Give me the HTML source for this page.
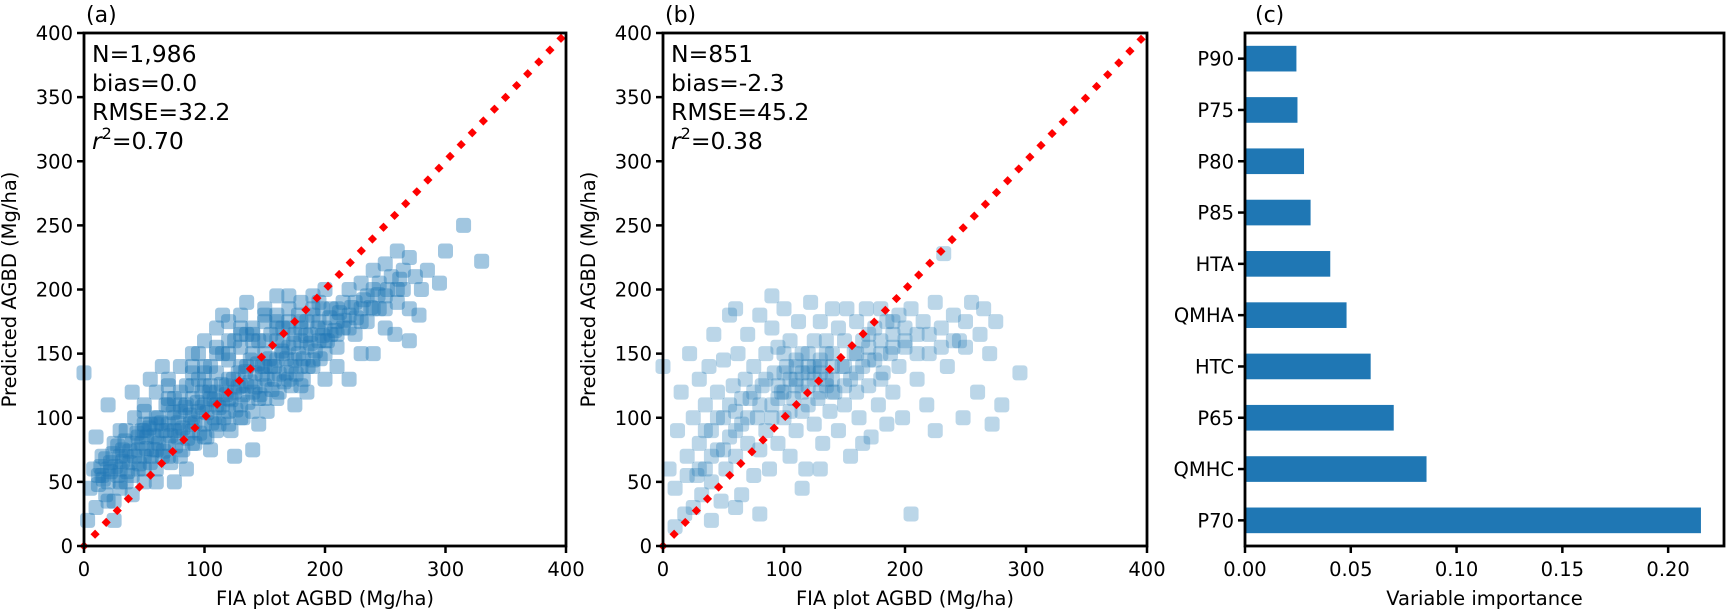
<!DOCTYPE html>
<html><head><meta charset="utf-8">
<style>
html,body{margin:0;padding:0;background:#fff;}
svg{display:block;font-family:"DejaVu Sans","Liberation Sans",sans-serif;}
</style></head>
<body>
<svg id="fig" width="1727" height="610" viewBox="0 0 1727 610" xmlns="http://www.w3.org/2000/svg"></svg>
<script>
// ---- Panel (a) data ----
const statsA = ["N=1,986","bias=0.0","RMSE=32.2","0.70"];
const pointsA = [[5,45],[8,60],[10,30],[12,55],[15,70],[18,40],[20,50],[22,65],[25,35],[25,80],[28,55],[30,60],[30,45],[32,75],[35,50],[35,90],[38,65],[40,55],[40,80],[42,100],[45,60],[45,75],[48,90],[50,50],[50,70],[50,110],[52,85],[55,65],[55,95],[58,75],[60,60],[60,85],[60,120],[62,100],[65,70],[65,90],[68,110],[70,80],[70,95],[70,130],[72,65],[75,100],[75,115],[78,85],[80,90],[80,105],[80,140],[82,75],[85,110],[85,125],[88,95],[90,100],[90,115],[90,150],[92,80],[95,105],[95,130],[98,120],[100,95],[100,110],[100,125],[100,160],[102,85],[105,115],[105,140],[108,100],[110,120],[110,135],[110,170],[112,95],[115,110],[115,150],[118,125],[120,105],[120,130],[120,145],[120,175],[122,90],[125,120],[125,160],[128,135],[130,110],[130,140],[130,155],[130,180],[132,100],[135,125],[135,165],[138,145],[140,120],[140,150],[140,170],[140,75],[142,135],[145,115],[145,160],[148,140],[150,125],[150,150],[150,175],[150,185],[152,105],[155,140],[155,165],[158,130],[160,145],[160,160],[160,180],[162,120],[165,150],[165,170],[168,135],[170,155],[170,175],[170,185],[172,125],[175,145],[175,165],[178,180],[180,140],[180,160],[180,190],[182,130],[185,155],[185,175],[188,165],[190,145],[190,180],[190,195],[195,160],[195,175],[198,185],[200,150],[200,170],[200,200],[205,165],[205,185],[210,175],[210,155],[215,190],[215,170],[220,180],[220,200],[225,165],[225,190],[230,185],[230,205],[235,175],[235,195],[240,200],[240,215],[245,185],[245,205],[250,195],[250,220],[255,210],[258,165],[260,190],[260,230],[265,200],[265,215],[270,185],[270,225],[275,210],[278,180],[280,200],[285,215],[295,205],[300,230],[315,250],[330,222],[0,135],[3,20],[10,85],[20,110],[25,20],[40,120],[55,130],[65,140],[75,50],[85,60],[95,150],[105,75],[115,180],[125,70],[135,190],[145,95],[160,195],[175,110],[185,120],[200,130],[210,140],[240,150],[250,170],[270,160],[220,130],[230,150],[15,55],[30,70],[45,85],[60,95],[75,90],[90,125],[105,125],[120,115],[135,140],[150,140],[165,160],[180,170],[195,190],[210,185],[60,75],[80,120],[100,140],[120,160],[140,160],[160,170],[130,125],[110,110],[90,90],[70,110],[50,90],[35,70],[20,60],
[12,48],[14,62],[16,52],[18,68],[22,58],[24,72],[26,62],[28,78],[32,66],[34,82],[36,58],[38,74],[42,70],[44,88],[46,64],[48,80],[52,76],[54,92],[56,70],[58,86],[62,80],[64,96],[66,74],[68,90],[72,86],[74,104],[76,78],[78,96],[82,92],[84,108],[86,84],[88,102],[92,96],[94,112],[96,88],[98,108],[102,104],[104,120],[106,96],[108,114],[112,108],[114,126],[116,100],[118,118],[122,114],[124,130],[126,106],[128,124],[132,118],[134,136],[136,112],[138,128],[142,124],[144,142],[146,118],[148,134],[152,130],[154,146],[156,122],[158,140],[162,134],[164,152],[166,128],[168,146],[172,140],[174,158],[176,134],[178,150],[182,146],[184,164],[186,140],[188,158],[192,152],[194,170],[196,146],[198,164],[202,160],[204,178],[208,168],[212,182],[216,176],[222,186],[226,178],[232,192],[238,186],[244,196],[252,200],[262,208],[120,150],[100,135],[80,110],[60,100],[140,165],[160,175],[130,170],[110,155],[90,135],[70,115],[50,95],[150,160],[170,170],[180,175],[190,185],[60,50],[80,70],[100,85],[120,95],[140,105],[160,115],[180,125],[40,40],[20,35],[30,50],[50,60],[70,70],[90,80],[110,90],[130,100],[150,115],[170,130],[190,140],[200,160],[210,165],[220,170],[230,175],[240,185],[250,185],[260,200],[170,195],[150,180],[130,165],[110,150],[90,140],[70,125],[50,105],[30,90]];
// ---- Panel (b) data ----
const statsB = ["N=851","bias=-2.3","RMSE=45.2","0.38"];
const pointsB = [[0,140],[5,60],[10,45],[12,90],[15,120],[18,25],[20,70],[22,150],[25,30],[25,100],[28,55],[30,130],[30,80],[32,40],[35,110],[35,60],[38,140],[40,90],[40,50],[42,165],[45,75],[45,120],[48,35],[50,100],[50,145],[52,60],[55,180],[55,85],[58,125],[60,70],[60,105],[62,150],[65,40],[65,95],[68,130],[70,80],[70,165],[72,115],[75,55],[75,140],[78,100],[80,180],[80,75],[82,125],[85,150],[85,90],[88,60],[90,110],[90,170],[92,135],[95,80],[95,155],[98,120],[100,100],[100,185],[102,140],[105,70],[105,160],[108,115],[110,130],[110,90],[112,175],[115,150],[115,105],[118,60],[120,140],[120,125],[122,190],[125,95],[125,160],[128,115],[130,145],[130,175],[132,80],[135,130],[135,160],[138,105],[140,150],[140,185],[142,120],[145,90],[145,170],[148,140],[150,110],[150,160],[152,185],[155,130],[155,70],[158,150],[160,120],[160,175],[162,100],[165,160],[165,140],[168,185],[170,125],[170,155],[172,85],[175,170],[175,145],[178,110],[180,160],[180,185],[182,135],[185,175],[185,95],[188,150],[190,165],[190,120],[195,180],[195,140],[198,100],[200,170],[200,155],[205,25],[205,185],[210,130],[210,165],[215,175],[218,110],[220,150],[225,190],[225,90],[230,170],[232,228],[235,140],[240,180],[245,160],[248,100],[250,175],[255,190],[260,120],[262,165],[265,185],[270,150],[272,95],[275,175],[280,110],[295,135],[60,30],[80,25],[10,15],[40,20],[115,45],[130,60],[165,80],[90,195],[60,185],[100,135],[110,145],[120,150],[130,135],[140,140],[105,130],[95,115],[115,135],[125,140],[135,150],
[100,120],[110,125],[120,135],[130,140],[140,130],[90,100],[80,110],[70,100],[60,90],[100,150],[110,140],[120,110],[130,120],[150,140],[160,150],[170,145],[180,150],[190,155],[140,120],[115,120],[125,130],[135,125],[105,105],[95,125],[85,130],[75,120],[65,115],[55,110],[45,100],[35,90],[50,75],[40,70],[30,60],[20,55],[150,125],[160,135],[170,165],[200,160],[210,150],[220,165],[230,155],[240,160],[250,155],[180,130],[190,175]];
const scatterTicks = [0,50,100,150,200,250,300,350,400];
const scatterXTicks = [0,100,200,300,400];
// ---- Panel (c) data ----
const featureNames = ["P70","QMHC","P65","HTC","QMHA","HTA","P85","P80","P75","P90"];
const importances = [0.2155,0.0858,0.0703,0.0594,0.048,0.0403,0.031,0.0279,0.0248,0.0243];
const impTicks = [0,0.05,0.10,0.15,0.20];
const impTickLabels = ["0.00","0.05","0.10","0.15","0.20"];

const NS = "http://www.w3.org/2000/svg";
const svg = document.getElementById('fig');
function mk(tag, attrs, parent){
  const e = document.createElementNS(NS, tag);
  for (const k in attrs) e.setAttribute(k, attrs[k]);
  (parent||svg).appendChild(e);
  return e;
}
const TOP = 33, BOT = 546, FS = 19.5;

function scatterPanel(L, R, pts, stats, letter, key){
  const g = mk('g', {});
  
  
  const sx = v => L + (v/400)*(R-L);
  const sy = v => BOT - (v/400)*(BOT-TOP);
  const ms = 15;
  const pg = mk('g', {fill:'#1f77b4','fill-opacity': key==='a' ? 0.42 : 0.3}, g);
  
  
  pts.forEach(p => {
    const r = mk('rect', {x: sx(p[0])-ms/2, y: sy(p[1])-ms/2, width: ms, height: ms, rx: 3.5}, pg);
    
    
  });
  // 1:1 line as diamond markers
  const lg = mk('g', {fill:'#ff0000'}, g);
  
  
  const len = Math.hypot(sx(400)-sx(0), sy(400)-sy(0));
  const step = 16.2, nd = Math.floor(len/step);
  for (let i=0;i<=nd;i++){
    const v = 400*i*step/len;
    const cx = sx(v), cy = sy(v), h = 4.6;
    mk('polygon', {points:`${cx},${cy-h} ${cx+h},${cy} ${cx},${cy+h} ${cx-h},${cy}`}, lg);
  }
  // ticks
  scatterTicks.forEach(t => {
    mk('line', {x1: L-7, x2: L, y1: sy(t), y2: sy(t), stroke:'#000','stroke-width':2.5}, g);
    const tx = mk('text', {x: L-11, y: sy(t)+7, 'text-anchor':'end', 'font-size':FS}, g);
    tx.textContent = t;
    
    
  });
  scatterXTicks.forEach(t => {
    mk('line', {x1: sx(t), x2: sx(t), y1: BOT, y2: BOT+7, stroke:'#000','stroke-width':2.5}, g);
    const tx = mk('text', {x: sx(t), y: BOT+30, 'text-anchor':'middle', 'font-size':FS}, g);
    tx.textContent = t;
    
    
  });
  const fr = mk('rect', {x: L, y: TOP, width: R-L, height: BOT-TOP, fill:'none', stroke:'#000', 'stroke-width':2.8}, g);
  
  
  const xt = mk('text', {x:(L+R)/2, y: 605, 'text-anchor':'middle','font-size':FS}, g);
  xt.textContent = 'FIA plot AGBD (Mg/ha)';
  
  
  const yx = L - 68, yc = (TOP+BOT)/2;
  const yt = mk('text', {x: yx, y: yc, 'text-anchor':'middle','font-size':FS, transform:`rotate(-90 ${yx} ${yc})`}, g);
  yt.textContent = 'Predicted AGBD (Mg/ha)';
  
  
  const lt = mk('text', {x: L+2, y: 22, 'font-size':22}, g);
  lt.textContent = '(' + letter + ')';
  
  
  const sg = mk('g', {'font-size':23.5}, g);
  
  
  for (let i=0;i<3;i++){
    const s = mk('text', {x: L+8, y: 62 + i*29}, sg);
    s.textContent = stats[i];
  }
  const r2 = mk('text', {x: L+8, y: 62 + 3*29}, sg);
  const a = mk('tspan', {'font-style':'italic'}, r2); a.textContent = 'r';
  const b = mk('tspan', {'font-size':16, dy:-10}, r2); b.textContent = '2';
  const c = mk('tspan', {dy:10}, r2); c.textContent = '=' + stats[3];
}
scatterPanel(84, 566, pointsA, statsA, 'a', 'a');
scatterPanel(663, 1147, pointsB, statsB, 'b', 'b');

// ---- Panel (c) bar chart ----
(function(){
  const L = 1245, R = 1724, XMAX = 0.2264;
  const g = mk('g', {});
  
  
  const sx = v => L + (v/XMAX)*(R-L);
  const n = featureNames.length;
  const band = (BOT-TOP)/n;
  const sy = i => BOT - (i+0.5)*band;
  featureNames.forEach((f,i) => {
    const r = mk('rect', {x: L, y: sy(i)-band*0.25, width: sx(importances[i])-L, height: band*0.5, fill:'#1f77b4'}, g);
    
    
    mk('line', {x1: L-7, x2: L, y1: sy(i), y2: sy(i), stroke:'#000','stroke-width':2.5}, g);
    const t = mk('text', {x: L-11, y: sy(i)+7, 'text-anchor':'end','font-size':FS}, g);
    t.textContent = f;
    
    
  });
  impTicks.forEach((t,i) => {
    mk('line', {x1: sx(t), x2: sx(t), y1: BOT, y2: BOT+7, stroke:'#000','stroke-width':2.5}, g);
    const tx = mk('text', {x: sx(t), y: BOT+30, 'text-anchor':'middle','font-size':FS}, g);
    tx.textContent = impTickLabels[i];
    
    
  });
  const fr = mk('rect', {x: L, y: TOP, width: R-L, height: BOT-TOP, fill:'none', stroke:'#000','stroke-width':2.8}, g);
  
  
  const xt = mk('text', {x:(L+R)/2, y:605, 'text-anchor':'middle','font-size':FS}, g);
  xt.textContent = 'Variable importance';
  
  
  const lt = mk('text', {x: L+10, y: 22, 'font-size':22}, g);
  lt.textContent = '(c)';
  
  
})();
</script>
</body></html>
